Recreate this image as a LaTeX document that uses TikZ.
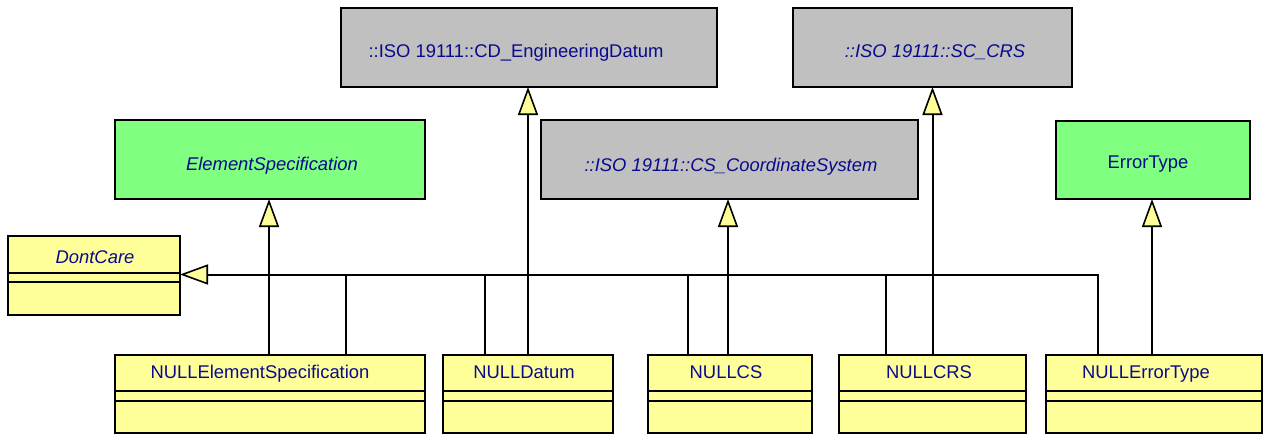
\documentclass[tikz,border=0pt]{standalone}
\usepackage{fontspec}
\setmainfont{Liberation Sans}
\usetikzlibrary{arrows.meta,calc}
\definecolor{umlgray}{RGB}{192,192,192}
\definecolor{umlgreen}{RGB}{128,255,128}
\definecolor{umlyellow}{RGB}{255,255,153}
\definecolor{umltext}{RGB}{10,10,140}
\tikzset{
  box/.style={draw=black, line width=2pt, inner sep=0pt, outer sep=0pt, rectangle},
  graybox/.style={box, fill=umlgray},
  greenbox/.style={box, fill=umlgreen},
  classbox/.style={box, fill=umlyellow},
  lbl/.style={text=umltext, font=\fontsize{18.4}{21}\selectfont, inner sep=0pt, anchor=base},
  ilbl/.style={lbl, font=\fontsize{18.4}{21}\selectfont\itshape},
  conn/.style={draw=black, line width=2pt},
  gen/.style={conn, -{Triangle[width=20pt,length=28pt,fill=umlyellow,line width=1.6pt]}},
}
\begin{document}
\begin{tikzpicture}[x=1pt,y=-1pt]
\useasboundingbox (0,0) rectangle (1264,434);
% supertypes
\node[graybox, minimum width=376pt, minimum height=79pt] (cd) at (529,47.5) {};
\node[lbl] (cdt) at (516,57) {::ISO 19111::CD\_EngineeringDatum};
\node[graybox, minimum width=279pt, minimum height=79pt] (sc) at (932.5,47.5) {};
\node[ilbl] (sct) at (935,57) {::ISO 19111::SC\_CRS};
\node[graybox, minimum width=377pt, minimum height=79pt] (cs) at (729.5,159.5) {};
\node[ilbl] (cst) at (731,171) {::ISO 19111::CS\_CoordinateSystem};
\node[greenbox, minimum width=310pt, minimum height=79pt] (es) at (270,159.5) {};
\node[ilbl] (est) at (272,170) {ElementSpecification};
\node[greenbox, minimum width=194pt, minimum height=78pt] (et) at (1153,160) {};
\node[lbl] (ett) at (1148,168.5) {ErrorType};
% DontCare
\node[classbox, minimum width=172pt, minimum height=79pt] (dc) at (94,275.5) {};
\node[ilbl] (dct) at (95,263) {DontCare};
\draw[conn] ($(dc.north west)+(0,37)$) coordinate (dc1) -- (dc1 -| dc.east);
\draw[conn] ($(dc.north west)+(0,46)$) coordinate (dc2) -- (dc2 -| dc.east);
% subclasses
\node[classbox, minimum width=310pt, minimum height=78pt] (nes) at (270,394) {};
\node[lbl] (nest) at (260,378) {NULLElementSpecification};
\node[classbox, minimum width=170pt, minimum height=78pt] (nd) at (528,394) {};
\node[lbl] (ndt) at (524,378) {NULLDatum};
\node[classbox, minimum width=164pt, minimum height=78pt] (ncs) at (730,394) {};
\node[lbl] (ncst) at (726,378) {NULLCS};
\node[classbox, minimum width=187pt, minimum height=78pt] (ncrs) at (932.5,394) {};
\node[lbl] (ncrst) at (929,378) {NULLCRS};
\node[classbox, minimum width=216pt, minimum height=78pt] (net) at (1154,394) {};
\node[lbl] (nett) at (1146,378) {NULLErrorType};
\foreach \n in {nes,nd,ncs,ncrs,net}{
  \draw[conn] ($(\n.north west)+(0,36)$) coordinate (\n a) -- (\n a -| \n.east);
  \draw[conn] ($(\n.north west)+(0,46)$) coordinate (\n b) -- (\n b -| \n.east);
}
% generalizations to DontCare
\coordinate (hl) at ($(dc.east)+(0,-1)$);
\draw[gen] ([xshift=-56pt]net.north) |- (hl);
\draw[conn] ([xshift=76pt]nes.north) -- ([xshift=76pt]nes.north |- hl);
\draw[conn] ([xshift=-43pt]nd.north) -- ([xshift=-43pt]nd.north |- hl);
\draw[conn] ([xshift=-42pt]ncs.north) -- ([xshift=-42pt]ncs.north |- hl);
\draw[conn] ([xshift=-46.5pt]ncrs.north) -- ([xshift=-46.5pt]ncrs.north |- hl);
% generalizations to supertypes
\draw[gen] ([xshift=-1pt]nes.north) -- ([xshift=-1pt]es.south);
\draw[gen] (nd.north) -- (nd.north |- cd.south);
\draw[gen] ([xshift=-2pt]ncs.north) -- ([xshift=-2pt]ncs.north |- cs.south);
\draw[gen] (ncrs.north) -- (ncrs.north |- sc.south);
\draw[gen] ([xshift=-2pt]net.north) -- ([xshift=-2pt]net.north |- et.south);
\end{tikzpicture}
\end{document}
